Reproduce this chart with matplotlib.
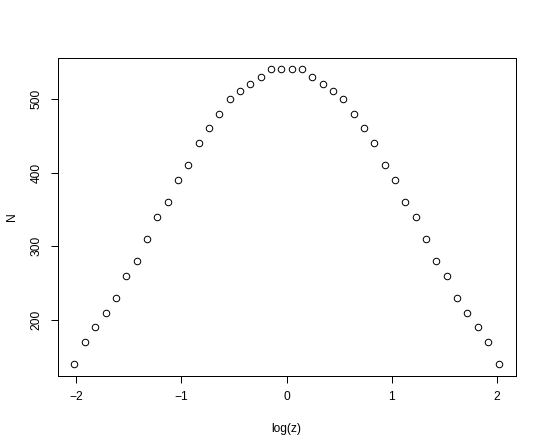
import matplotlib
matplotlib.use("Agg")
import matplotlib.pyplot as plt

plt.rcParams['font.family'] = ['Liberation Sans', 'DejaVu Sans']

log_z = [-2.013, -1.915, -1.816, -1.718, -1.620, -1.522, -1.423, -1.325,
         -1.227, -1.129, -1.031, -0.932, -0.834, -0.736, -0.638, -0.540,
         -0.441, -0.343, -0.245, -0.147, -0.049,
         0.049, 0.147, 0.245, 0.343, 0.441, 0.540, 0.638, 0.736, 0.834,
         0.932, 1.031, 1.129, 1.227, 1.325, 1.423, 1.522, 1.620, 1.718,
         1.816, 1.915, 2.013]
N = [140, 170, 190, 210, 230, 260, 280, 310, 340, 360, 390, 410, 440, 460,
     480, 500, 510, 520, 530, 540, 540,
     540, 540, 530, 520, 510, 500, 480, 460, 440, 410, 390, 360, 340, 310,
     280, 260, 230, 210, 190, 170, 140]
x_ticks = [-2, -1, 0, 1, 2]
y_ticks = [200, 300, 400, 500]

W, H = 544, 448
fig = plt.figure(figsize=(W / 72, H / 72), dpi=72)
ax = fig.add_axes([57.5 / W, 1 - 376 / H, (515.5 - 57.5) / W, (376 - 57.5) / H])
ax.plot(log_z, N, linestyle='none', marker='o', markersize=6.5,
        markerfacecolor='none', markeredgecolor='black', markeredgewidth=1)

xr = max(log_z) - min(log_z)
ax.set_xlim(min(log_z) - 0.04 * xr, max(log_z) + 0.04 * xr)
yr = max(N) - min(N)
ax.set_ylim(min(N) - 0.04 * yr, max(N) + 0.04 * yr)

ax.set_xticks(x_ticks)
ax.set_xticklabels(['\u22122', '\u22121', '0', '1', '2'])
ax.set_yticks(y_ticks)
ax.set_yticklabels([str(v) for v in y_ticks], rotation=90, va='center')
ax.tick_params(direction='out', length=7, width=1, labelsize=12, pad=8)
for s in ax.spines.values():
    s.set_linewidth(1)
ax.set_xlabel('log(z)', fontsize=12, labelpad=20)
ax.set_ylabel('N', fontsize=12, labelpad=13)

fig.savefig('out.png', dpi=72)
